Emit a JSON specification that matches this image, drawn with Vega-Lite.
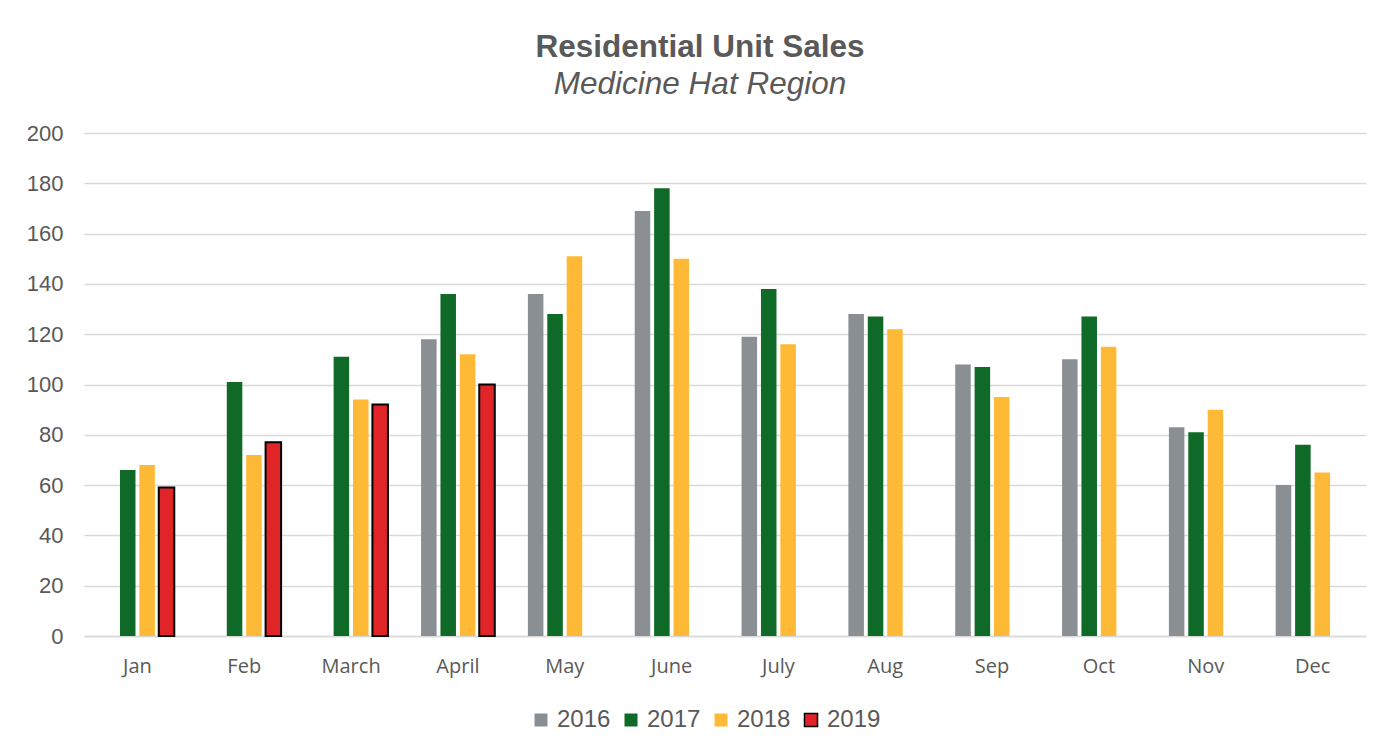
{
  "$schema": "https://vega.github.io/schema/vega-lite/v6.json",
  "autosize": "none",
  "width": 1282,
  "height": 503,
  "padding": {"left": 84, "top": 133, "right": 31, "bottom": 118},
  "background": "white",
  "title": {
    "text": "Residential Unit Sales",
    "subtitle": "Medicine Hat Region",
    "anchor": "middle",
    "dx": -25,
    "offset": 22,
    "font": "Liberation Sans",
    "fontSize": 31.5,
    "fontWeight": "bold",
    "color": "#595959",
    "subtitleFont": "Liberation Sans",
    "subtitleFontSize": 31.5,
    "subtitleFontStyle": "italic",
    "subtitleColor": "#595959",
    "subtitlePadding": 5
  },
  "config": {
    "view": {"stroke": null},
    "axis": {"labelColor": "#595959", "ticks": false}
  },
  "data": {
    "values": [
      {"month": "Jan", "year": "2017", "sales": 66},
      {"month": "Jan", "year": "2018", "sales": 68},
      {"month": "Jan", "year": "2019", "sales": 59},
      {"month": "Feb", "year": "2017", "sales": 101},
      {"month": "Feb", "year": "2018", "sales": 72},
      {"month": "Feb", "year": "2019", "sales": 77},
      {"month": "March", "year": "2017", "sales": 111},
      {"month": "March", "year": "2018", "sales": 94},
      {"month": "March", "year": "2019", "sales": 92},
      {"month": "April", "year": "2016", "sales": 118},
      {"month": "April", "year": "2017", "sales": 136},
      {"month": "April", "year": "2018", "sales": 112},
      {"month": "April", "year": "2019", "sales": 100},
      {"month": "May", "year": "2016", "sales": 136},
      {"month": "May", "year": "2017", "sales": 128},
      {"month": "May", "year": "2018", "sales": 151},
      {"month": "June", "year": "2016", "sales": 169},
      {"month": "June", "year": "2017", "sales": 178},
      {"month": "June", "year": "2018", "sales": 150},
      {"month": "July", "year": "2016", "sales": 119},
      {"month": "July", "year": "2017", "sales": 138},
      {"month": "July", "year": "2018", "sales": 116},
      {"month": "Aug", "year": "2016", "sales": 128},
      {"month": "Aug", "year": "2017", "sales": 127},
      {"month": "Aug", "year": "2018", "sales": 122},
      {"month": "Sep", "year": "2016", "sales": 108},
      {"month": "Sep", "year": "2017", "sales": 107},
      {"month": "Sep", "year": "2018", "sales": 95},
      {"month": "Oct", "year": "2016", "sales": 110},
      {"month": "Oct", "year": "2017", "sales": 127},
      {"month": "Oct", "year": "2018", "sales": 115},
      {"month": "Nov", "year": "2016", "sales": 83},
      {"month": "Nov", "year": "2017", "sales": 81},
      {"month": "Nov", "year": "2018", "sales": 90},
      {"month": "Dec", "year": "2016", "sales": 60},
      {"month": "Dec", "year": "2017", "sales": 76},
      {"month": "Dec", "year": "2018", "sales": 65}
    ]
  },
  "mark": {"type": "bar", "strokeWidth": 2},
  "encoding": {
    "x": {
      "field": "month",
      "type": "nominal",
      "sort": ["Jan", "Feb", "March", "April", "May", "June", "July", "Aug", "Sep", "Oct", "Nov", "Dec"],
      "scale": {"paddingInner": 0.31, "paddingOuter": 0.155},
      "axis": {
        "title": null,
        "labelAngle": 0,
        "labelFont": "Open Sans",
        "labelFontSize": 20,
        "labelPadding": 20,
        "domain": true,
        "domainColor": "#d9d9d9",
        "domainWidth": 1.5,
        "grid": false
      }
    },
    "xOffset": {
      "field": "year",
      "type": "nominal",
      "scale": {"domain": ["2016", "2017", "2018", "2019"], "paddingInner": 0.2, "paddingOuter": 0}
    },
    "y": {
      "field": "sales",
      "type": "quantitative",
      "scale": {"domain": [0, 200], "nice": false},
      "axis": {
        "title": null,
        "values": [0, 20, 40, 60, 80, 100, 120, 140, 160, 180, 200],
        "labelFont": "Liberation Sans",
        "labelFontSize": 22,
        "labelPadding": 21,
        "domain": false,
        "grid": true,
        "gridColor": "#d9d9d9",
        "gridWidth": 1.5
      }
    },
    "color": {
      "field": "year",
      "type": "nominal",
      "scale": {"domain": ["2016", "2017", "2018", "2019"], "range": ["#8A8F94", "#0E6A26", "#FEBA36", "#E02427"]},
      "legend": {
        "title": null,
        "orient": "none",
        "direction": "horizontal",
        "legendX": 445,
        "legendY": 575,
        "symbolType": "square",
        "symbolSize": 169,
        "symbolOpacity": 1,
        "labelFont": "Liberation Sans",
        "labelFontSize": 24,
        "labelColor": "#595959",
        "labelOffset": 4,
        "columnPadding": 8
      }
    },
    "stroke": {
      "field": "year",
      "type": "nominal",
      "scale": {"domain": ["2016", "2017", "2018", "2019"], "range": ["transparent", "transparent", "transparent", "#000000"]},
      "legend": null
    }
  }
}
